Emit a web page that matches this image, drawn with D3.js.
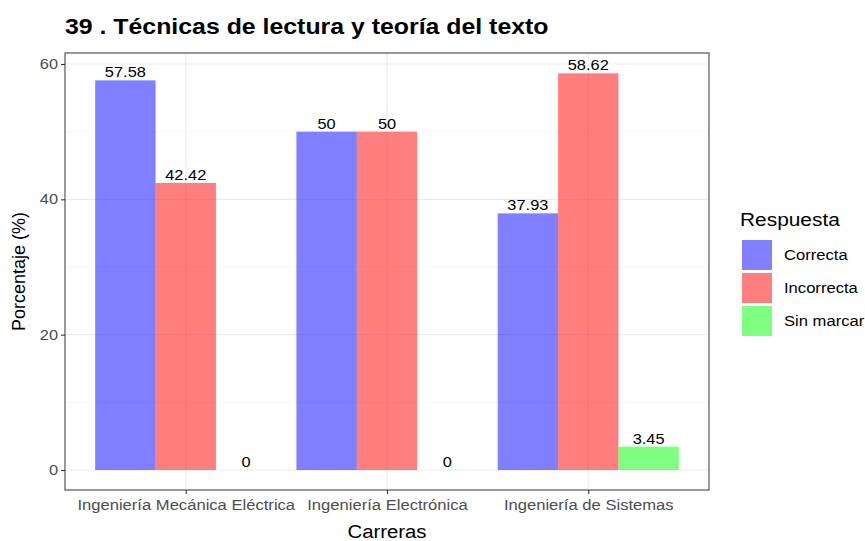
<!DOCTYPE html>
<html>
<head>
<meta charset="utf-8">
<script src="https://cdn.jsdelivr.net/npm/d3@7"></script>
<style>
  body { margin: 0; background: #fff; }
  text { font-family: "Liberation Sans", Arial, sans-serif; }
</style>
</head>
<body>
<svg id="chart" width="865" height="541"></svg>
<script>
// Data
const carreras = ["Ingeniería Mecánica Eléctrica", "Ingeniería Electrónica", "Ingeniería de Sistemas"];
const respuestas = ["Correcta", "Incorrecta", "Sin marcar"];
const correcta = [57.58, 50, 37.93];
const incorrecta = [42.42, 50, 58.62];
const sinMarcar = [0, 0, 3.45];
const yTicks = [0, 20, 40, 60];
const yMinor = [10, 30, 50];
const colores = ["#0000ff", "#ff0000", "#00ff00"];

const series = [correcta, incorrecta, sinMarcar];
const rows = [];
carreras.forEach((c, i) => respuestas.forEach((r, j) => rows.push({ carrera: c, respuesta: r, valor: series[j][i] })));

// Text is drawn slightly widened horizontally
const SX = 1.13;
function stretch(sel) {
  sel.each(function () {
    const t = d3.select(this);
    const x = +t.attr("x") || 0, y = +t.attr("y") || 0;
    t.attr("x", 0).attr("y", 0).attr("transform", `translate(${x},${y}) scale(${SX},1)`);
  });
}

const svg = d3.select("#chart");
const panel = { left: 65, right: 709, top: 53, bottom: 490 };

// Discrete x positions with ggplot-style 0.6 expansion on each side
const x = d3.scalePoint().domain(carreras).range([panel.left, panel.right]).padding(0.6);
const step = x.step();
const xInner = d3.scaleBand().domain(respuestas).range([-step * 0.45, step * 0.45]);
const y = d3.scaleLinear().domain([0, 60]).range([470, 64]);
const color = d3.scaleOrdinal().domain(respuestas).range(colores);

// Panel background and grid
const g = svg.append("g");
g.append("rect").attr("x", panel.left).attr("y", panel.top)
  .attr("width", panel.right - panel.left).attr("height", panel.bottom - panel.top).attr("fill", "#fff");
g.selectAll(".minor").data(yMinor).enter().append("line")
  .attr("x1", panel.left).attr("x2", panel.right).attr("y1", d => y(d)).attr("y2", d => y(d))
  .attr("stroke", "#f2f2f2").attr("stroke-width", 0.6);
g.selectAll(".major").data(yTicks).enter().append("line")
  .attr("x1", panel.left).attr("x2", panel.right).attr("y1", d => y(d)).attr("y2", d => y(d))
  .attr("stroke", "#ebebeb").attr("stroke-width", 1.1);
g.selectAll(".vmajor").data(carreras).enter().append("line")
  .attr("x1", d => x(d)).attr("x2", d => x(d)).attr("y1", panel.top).attr("y2", panel.bottom)
  .attr("stroke", "#ebebeb").attr("stroke-width", 1.1);

// Bars
g.selectAll(".bar").data(rows).enter().append("rect")
  .attr("x", d => x(d.carrera) + xInner(d.respuesta))
  .attr("width", xInner.bandwidth())
  .attr("y", d => y(d.valor))
  .attr("height", d => y(0) - y(d.valor))
  .attr("fill", d => color(d.respuesta))
  .attr("fill-opacity", 0.5);

// Value labels
g.selectAll(".lbl").data(rows).enter().append("text")
  .attr("x", d => x(d.carrera) + xInner(d.respuesta) + xInner.bandwidth() / 2)
  .attr("y", d => y(d.valor) - 3)
  .attr("text-anchor", "middle")
  .attr("font-size", 14.5).attr("fill", "#000")
  .text(d => d.valor)
  .call(stretch);

// Panel border
g.append("rect").attr("x", panel.left).attr("y", panel.top)
  .attr("width", panel.right - panel.left).attr("height", panel.bottom - panel.top)
  .attr("fill", "none").attr("stroke", "#555").attr("stroke-width", 1.2);

// Y axis
const yAxis = svg.append("g").attr("transform", `translate(${panel.left},0)`)
  .call(d3.axisLeft(y).tickValues(yTicks).tickSize(4).tickPadding(3));
yAxis.select(".domain").remove();
yAxis.selectAll("line").attr("stroke", "#333").attr("stroke-width", 1.1);
yAxis.selectAll("text").attr("font-size", 14.5).attr("fill", "#4d4d4d")
  .attr("x", -7 / SX).attr("transform", `scale(${SX},1)`)
  .style("font-family", "'Liberation Sans', Arial, sans-serif");

// X axis
const xAxis = svg.append("g").attr("transform", `translate(0,${panel.bottom})`)
  .call(d3.axisBottom(x).tickSize(4).tickPadding(6));
xAxis.select(".domain").remove();
xAxis.selectAll("line").attr("stroke", "#333").attr("stroke-width", 1.1);
xAxis.selectAll("text").attr("font-size", 14.7).attr("fill", "#4d4d4d")
  .attr("transform", `scale(${SX},1)`)
  .style("font-family", "'Liberation Sans', Arial, sans-serif");

// Axis titles
svg.append("text").attr("x", (panel.left + panel.right) / 2).attr("y", 538)
  .attr("text-anchor", "middle").attr("font-size", 18).attr("fill", "#000").text("Carreras")
  .call(stretch);
svg.append("text").attr("transform", `translate(25,${(panel.top + panel.bottom) / 2}) rotate(-90)`)
  .attr("text-anchor", "middle").attr("font-size", 18).attr("fill", "#000").text("Porcentaje (%)");

// Title
svg.append("text").attr("x", 65).attr("y", 34).attr("font-size", 22).attr("font-weight", "bold")
  .attr("fill", "#000").text("39 . Técnicas de lectura y teoría del texto")
  .call(stretch);

// Legend
const lg = svg.append("g").attr("transform", "translate(742,0)");
lg.append("text").attr("x", -2).attr("y", 226).attr("font-size", 18.5).attr("fill", "#000").text("Respuesta")
  .call(stretch);
const items = lg.selectAll(".item").data(respuestas).enter().append("g")
  .attr("transform", (d, i) => `translate(0,${240 + i * 33})`);
items.append("rect").attr("width", 30).attr("height", 30)
  .attr("fill", d => color(d)).attr("fill-opacity", 0.5);
items.append("text").attr("x", 42).attr("y", 20).attr("font-size", 14.7).attr("fill", "#000").text(d => d)
  .call(stretch);
</script>
</body>
</html>
